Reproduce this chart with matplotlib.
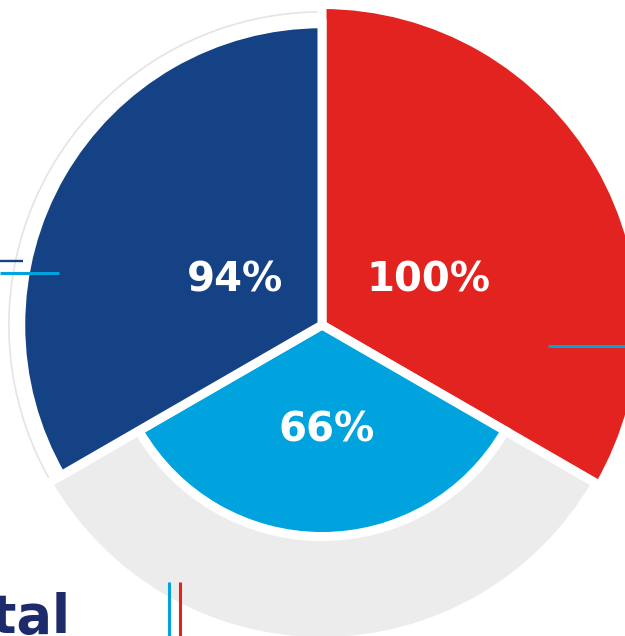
import numpy as np
import matplotlib
matplotlib.use("Agg")
import matplotlib.pyplot as plt
from matplotlib.lines import Line2D

# data
categories = ["Red", "Light blue", "Dark blue"]
values = [100, 66, 94]
labels = ["100%", "66%", "94%"]
colors = ["#e2231f", "#00a3de", "#154285"]
bg_value = 98.75
outline_value = 97.7

W, H = 625, 636
fig = plt.figure(figsize=(W / 100, H / 100), dpi=100)
cx, cy = 322, 636 - 325
R = 320.5
ax = fig.add_axes([(cx - R) / W, (cy - R) / H, 2 * R / W, 2 * R / H], projection="polar")
ax.set_theta_zero_location("N")
ax.set_theta_direction(-1)
ax.set_ylim(0, 100)
ax.set_axis_off()

width = 2 * np.pi / 3
centers = np.deg2rad([60, 180, 300])

# faint outline circle
th = np.linspace(0, 2 * np.pi, 400)
ax.plot(th, np.full_like(th, outline_value), color="#e4e4e4", lw=1.2, zorder=1, clip_on=False)
# gray background sector for the light-blue slice
ax.bar(centers[1], bg_value, width=width, color="#ececec", edgecolor="white",
       linewidth=6.5, zorder=2, clip_on=False)
ax.bar(centers, values, width=width, color=colors, edgecolor="white",
       linewidth=6.5, zorder=3, clip_on=False)

# percent labels (figure pixel positions)
label_pos = [(428, 280), (327, 430), (235, 280)]
for (x, y), t in zip(label_pos, labels):
    fig.text(x / W, 1 - y / H, t, color="white", fontsize=29, fontweight="heavy",
             ha="center", va="center", family="DejaVu Sans")

def hline(x0, x1, y, c, lw):
    fig.add_artist(Line2D([x0 / W, x1 / W], [1 - y / H, 1 - y / H], color=c, lw=lw,
                          transform=fig.transFigure, solid_capstyle="butt"))

def vline(x, y0, y1, c, lw):
    fig.add_artist(Line2D([x / W, x / W], [1 - y0 / H, 1 - y1 / H], color=c, lw=lw,
                          transform=fig.transFigure, solid_capstyle="butt"))

hline(0, 23, 261, "#154285", 1.7)
hline(0, 59, 272.5, "#00a3de", 2.2)
hline(548, 625, 345.5, "#00a3de", 2.2)
vline(169, 582, 636, "#00a3de", 2.2)
vline(180, 582, 636, "#e2231f", 2.2)

fig.text(71 / W, 1 - 633 / H, "Total", color="#1e2b6b", fontsize=38, fontweight="heavy",
         ha="right", va="baseline", family="DejaVu Sans")

fig.savefig("out.png", dpi=100)
